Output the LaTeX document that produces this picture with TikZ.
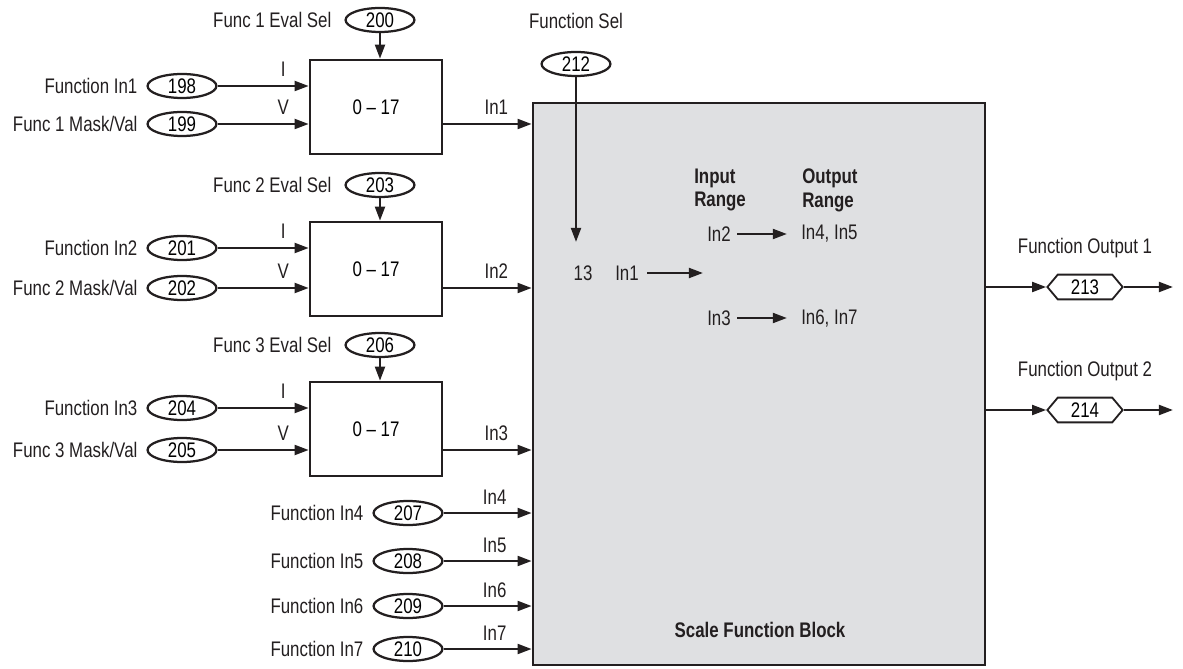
\documentclass[tikz,border=0pt]{standalone}
\usepackage{fontspec}
\setmainfont{Liberation Sans}[FakeStretch=0.8]
\definecolor{blockGrey}{HTML}{DFE0E2}
\definecolor{lineBlack}{HTML}{231F20}
\usetikzlibrary{arrows.meta, positioning, shapes.geometric, shapes.symbols}
\tikzset{
    param node/.style={ellipse, draw=lineBlack, line width=1.6pt, minimum width=1.72cm, minimum height=0.6cm, inner sep=0pt},
    out node/.style={signal, signal to=east and west, signal pointer angle=100, draw=lineBlack, line width=1.3pt, minimum width=1.88cm, minimum height=0.62cm, inner sep=0pt},
    eval node/.style={rectangle, draw=lineBlack, line width=1.8pt, minimum width=3.3cm, minimum height=2.35cm},
    lbl node/.style={inner sep=0pt, text=lineBlack},
    arrow style/.style={-{Triangle[length=10pt, width=7pt]}, line width=1.7pt, lineBlack},
}

\begin{document}
\begin{tikzpicture}[x=0.025cm, y=-0.025cm, font=\fontsize{15}{17}\selectfont]
    \useasboundingbox (0,0) rectangle (1183,669);

    % main block
    \node[rectangle, draw=lineBlack, line width=1.8pt, fill=blockGrey, minimum width=11.3cm, minimum height=14.05cm] (scale) at (759,384) {};
    \node[lbl node, font=\fontsize{15}{17}\selectfont\bfseries] (title) at (760,630) {Scale Function Block};

    % function blocks 1-3
    \foreach \n/\y/\ev/\iy/\vy/\pe/\pi/\pv in {1/107/20/86/124/200/198/199, 2/269/185/248/288/203/201/202, 3/429/345/408/450/206/204/205} {
        \node[eval node] (box\n) at (376,\y) {0 -- 17};
        \node[param node] (ev\n) at (380,\ev) {\pe};
        \node[lbl node, left=0.32cm of ev\n] {Func \n\ Eval Sel};
        \node[param node] (mi\n) at (182,\iy) {\pi};
        \node[param node] (mv\n) at (182,\vy) {\pv};
        \node[lbl node, left=0.22cm of mv\n] {Func \n\ Mask/Val};
        \draw[arrow style] (ev\n.south) -- (ev\n.south |- box\n.north);
        \draw[arrow style] (mi\n.east) -- (mi\n.east -| box\n.west) node[pos=0.72, above=6pt, lbl node] {I};
        \draw[arrow style] (mv\n.east) -- (mv\n.east -| box\n.west) node[pos=0.72, above=6pt, lbl node] {V};
        \draw[arrow style] (box\n.east |- mv\n) -- (scale.west |- mv\n) node[pos=0.6, above=6pt, lbl node] {In\n};
    }
    \node[lbl node, left=0.22cm of mi1] {Function In1};
    \node[lbl node, left=0.22cm of mi2] {Function In2};
    \node[lbl node, left=0.22cm of mi3] {Function In3};

    % direct inputs 4-7
    \foreach \n/\y/\p in {4/513/207, 5/561/208, 6/606/209, 7/649/210} {
        \node[param node] (fi\n) at (408,\y) {\p};
        \node[lbl node, left=0.22cm of fi\n] {Function In\n};
        \draw[arrow style] (fi\n.east) -- (scale.west |- fi\n) node[pos=0.58, above=5pt, lbl node] {In\n};
    }

    % function select
    \node[param node] (sel) at (576,64) {212};
    \node[lbl node, above=0.55cm of sel] {Function Sel};
    \coordinate (selend) at (576,242);
    \draw[arrow style] (sel.south) -- (selend);

    % ranges
    \node[lbl node] (num) at (583,273) {13};
    \node[lbl node] (inone) at (627,273) {In1};
    \coordinate (inoneend) at (703,273);
    \draw[arrow style] (inone.east) ++(8,0) -- (inoneend);
    \node[lbl node, align=left, font=\fontsize{15}{17}\selectfont\bfseries, anchor=west] (inrange) at (694,190) {Input\\Range};
    \node[lbl node, align=left, font=\fontsize{15}{17}\selectfont\bfseries, anchor=west] (outrange) at (802,190) {Output\\Range};
    \node[lbl node, anchor=east] (intwo) at (731,234) {In2};
    \node[lbl node, anchor=west] (outtwo) at (801,234) {In4, In5};
    \node[lbl node, anchor=east] (inthree) at (731,318) {In3};
    \node[lbl node, anchor=west] (outthree) at (801,318) {In6, In7};
    \draw[arrow style] (intwo.east) ++(6,0) -- ([xshift=-10]outtwo.west);
    \draw[arrow style] (inthree.east) ++(6,0) -- ([xshift=-10]outthree.west);

    % outputs
    \foreach \n/\y/\p in {1/287/213, 2/410/214} {
        \node[out node] (fo\n) at (1085,\y) {\p};
        \node[lbl node, above=0.4cm of fo\n] {Function Output \n};
        \coordinate (foend\n) at (1173,\y);
        \draw[arrow style] (scale.east |- fo\n) -- (fo\n.west);
        \draw[arrow style] (fo\n.east) -- (foend\n);
    }
\end{tikzpicture}
\end{document}
